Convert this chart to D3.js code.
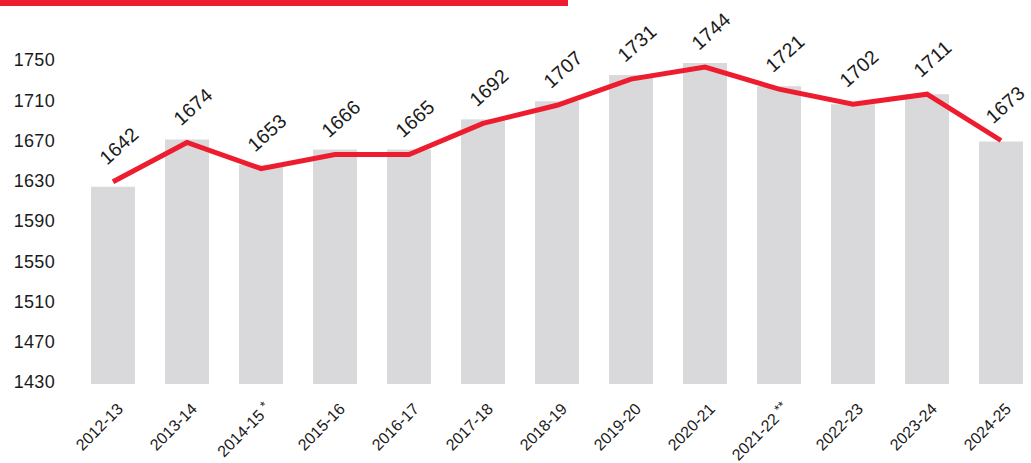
<!DOCTYPE html>
<html>
<head>
<meta charset="utf-8">
<script src="https://cdn.jsdelivr.net/npm/d3@7"></script>
<style>
  html, body { margin: 0; padding: 0; background: #fff; }
  svg { display: block; font-family: "Liberation Sans", Arial, sans-serif; }
</style>
</head>
<body>
<svg id="chart" width="1031" height="463"></svg>
<script>
// ---- data ----
const categories = ["2012-13","2013-14","2014-15 *","2015-16","2016-17","2017-18","2018-19","2019-20","2020-21","2021-22 **","2022-23","2023-24","2024-25"];
const labelValues = [1642,1674,1653,1666,1665,1692,1707,1731,1744,1721,1702,1711,1673];
const barValues  = [1624,1671,1646,1661,1661,1691,1709,1735,1747,1724,1706,1716,1669];
const lineValues = [1629,1668,1642,1656,1656,1687,1705,1731,1743,1721,1706,1716,1670];
const yTicks = [1430,1470,1510,1550,1590,1630,1670,1710,1750];

const RED = "#ED1C2E", GREY = "#D9D9DB", INK = "#1a1a1a";
const W = 1031;

const svg = d3.select("#chart");

// top red strip
svg.append("rect").attr("x",0).attr("y",0).attr("width",568).attr("height",6).attr("fill",RED);

const x = d3.scaleBand().domain(categories).range([76,1038]).paddingInner(0.405).paddingOuter(0.2025);
const y = d3.scaleLinear().domain([1430,1750]).range([382,60]);
const base = y(1430) + 2;

// y axis labels (no line)
const yAxis = d3.axisLeft(y).tickValues(yTicks).tickSize(0).tickPadding(0).tickFormat(d3.format("d"));
const gy = svg.append("g").attr("transform","translate(55,0)").call(yAxis);
gy.select(".domain").remove();
gy.selectAll("text").attr("font-size",18).attr("fill",INK)
  .style("font-family","Liberation Sans, Arial, sans-serif").style("letter-spacing","0.3px");

// bars
svg.append("g").selectAll("rect").data(categories).join("rect")
  .attr("x", d => x(d))
  .attr("width", x.bandwidth())
  .attr("y", (d,i) => y(barValues[i]))
  .attr("height", (d,i) => base - y(barValues[i]))
  .attr("fill", GREY);

// line
const cx = d => x(d) + x.bandwidth()/2;
const line = d3.line().x((d,i) => cx(categories[i])).y(d => y(d));
svg.append("path").datum(lineValues)
  .attr("d", line)
  .attr("fill","none").attr("stroke",RED).attr("stroke-width",5).attr("stroke-linejoin","miter");

// value labels
svg.append("g").selectAll("text").data(categories).join("text")
  .attr("font-size",19.5).attr("fill",INK).style("letter-spacing","0.3px")
  .text((d,i) => labelValues[i])
  .each(function(d,i) {
    const t = d3.select(this);
    let tx = cx(d) - 6, ty = y(lineValues[i]) - 16;
    t.attr("transform", `translate(${tx},${ty}) rotate(-42)`);
    const r = this.getBoundingClientRect();
    if (r.right > W - 2) {
      tx -= (r.right - (W - 2));
      t.attr("transform", `translate(${tx},${ty}) rotate(-42)`);
    }
  });

// x axis labels
const xAxis = d3.axisBottom(x).tickSize(0).tickPadding(0);
const gx = svg.append("g").attr("transform","translate(0,400)").call(xAxis);
gx.select(".domain").remove();
gx.selectAll("text")
  .attr("font-size",16).attr("fill",INK).style("font-family","Liberation Sans, Arial, sans-serif")
  .attr("text-anchor","end").attr("dy","0.35em").attr("y",0).attr("x",0)
  .attr("transform","translate(7,6) rotate(-45)")
  .each(function(d) {
    const parts = d.split(" ");
    if (parts.length > 1) {
      const t = d3.select(this).text(null);
      t.append("tspan").text(parts[0]);
      t.append("tspan").attr("dx","4").attr("dy","-0.35em").attr("font-size",13).text(parts[1]);
    }
  });
</script>
</body>
</html>
